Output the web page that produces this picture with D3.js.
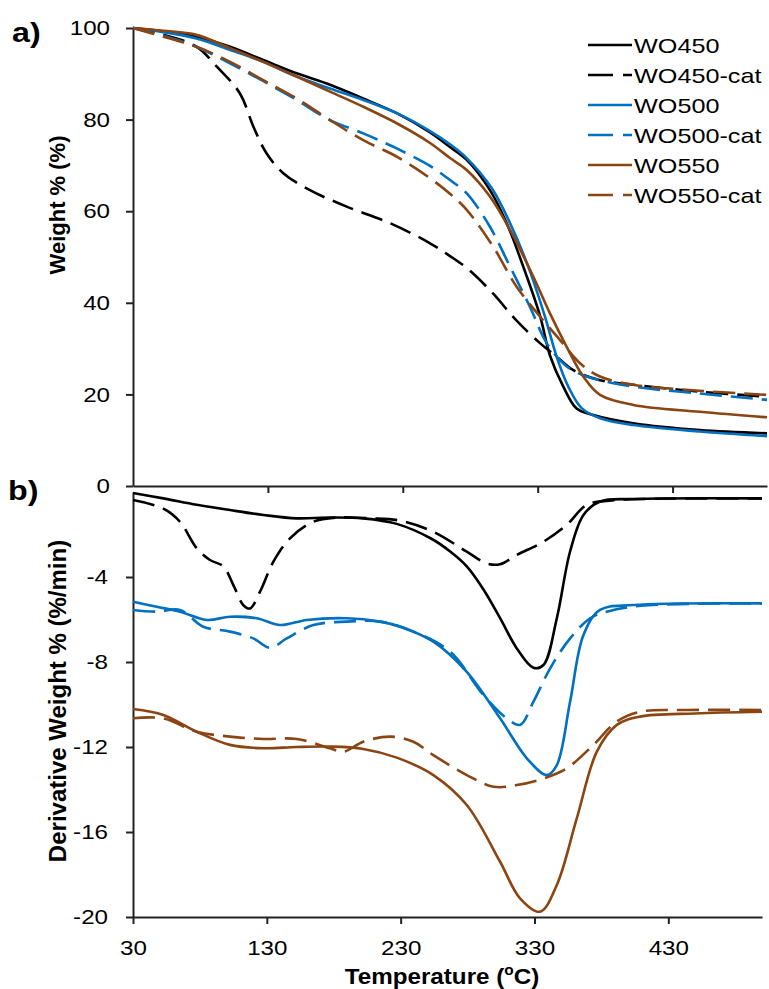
<!DOCTYPE html>
<html><head><meta charset="utf-8">
<script src="https://cdn.jsdelivr.net/npm/d3@7"></script>
<style>
html,body{margin:0;padding:0;background:#fff;}
text{font-family:"Liberation Sans",Arial,sans-serif;fill:#000;}
</style></head>
<body><svg id="c" width="769" height="989"></svg>
<script>
// ---- data (temperature °C, value) ----
const seriesNames = ["WO450","WO450-cat","WO500","WO500-cat","WO550","WO550-cat"];

// a) Weight %
const tga_WO450 = [[30,100],[52,99.3],[77,98.1],[102,95.9],[126.6,93],[151.3,90.1],[176,87.6],[200.7,84.6],[225.5,81.4],[250.2,77.2],[265,74],[277.4,71.2],[294.6,64.6],[307,57.4],[319.3,47.9],[331.7,37.2],[339.1,28.5],[349,21.7],[358.9,16.9],[371.2,15.5],[400.9,13.7],[450.3,12.2],[500,11.5]];
const tga_WO450cat = [[30,100],[52.5,98.5],[77.2,95.9],[92,91.6],[109.3,85.7],[119.2,78.5],[129.1,72.6],[141.4,68.3],[161.2,64.6],[188.4,61],[220.5,57.4],[250.2,53],[265,50.2],[277.4,47.6],[296.7,42.1],[314,36.2],[331.7,31.2],[344.1,28.2],[356.4,25.3],[376.2,23.1],[400.9,22.1],[450,20.6],[500,19.5]];
const tga_WO500 = [[30,100],[52.5,99.1],[77,97.7],[102,95.2],[126.6,92.6],[151.3,89.4],[176,86.8],[200.7,84.3],[225.5,81.4],[250.2,77.5],[265,74.6],[277.4,71.6],[296,65],[309.5,57.4],[323,47.9],[335.4,37],[344.1,28.2],[352.7,21.7],[362.6,17],[376.2,14.8],[400.9,13.3],[450,11.9],[500,10.9]];
const tga_WO500cat = [[30,100],[52.5,98.3],[77,95.9],[101.9,92.3],[134,87.2],[151.3,84.3],[176,79.9],[200.7,77],[225.5,73.7],[250.2,69.9],[265,66.8],[277.4,63.9],[294.6,56.6],[309.5,47.9],[324.3,39.1],[336.7,31.2],[351.5,26.1],[366.3,23.9],[400.9,21.7],[450,20.2],[500,18.8]];
const tga_WO550 = [[30,100],[52.5,99.4],[77,98.5],[102,95.6],[126.6,92.6],[151.3,89.4],[176,86.1],[200.7,82.8],[225.5,79.2],[250.2,74.9],[265,71.6],[277.4,69],[294.6,63.2],[309.5,55.9],[326.8,45.7],[339.1,37.7],[351.5,30.4],[363.8,23.9],[376.2,19.9],[400.9,17.7],[450,16.2],[500,15]];
const tga_WO550cat = [[30,100],[52.5,98.1],[77,95.9],[102,92.6],[126.6,88.6],[151.3,84.6],[176,79.9],[200.7,75.5],[225.5,71.9],[250.2,67.2],[265,63.8],[277.4,60.3],[297.1,52.2],[314.4,43.5],[331.7,37],[346.5,31.9],[361.4,26.8],[376.2,23.9],[400.9,22.1],[450,20.8],[500,19.9]];

// b) Derivative weight % (%/min)
const dtg_WO450 = [[30,-0.05],[52.7,-0.3],[77.6,-0.6],[102.5,-0.85],[127.4,-1.08],[152.3,-1.24],[177.2,-1.2],[202.1,-1.24],[227.1,-1.5],[253,-2.2],[267,-2.8],[279.4,-3.5],[292,-4.6],[304.3,-5.94],[316.8,-7.36],[329.2,-8.27],[336.7,-8.14],[346.7,-5.94],[356.6,-2.8],[366.6,-1.08],[379,-0.45],[403.9,-0.33],[500,-0.3]];
const dtg_WO450cat = [[30,-0.38],[52.7,-0.78],[65.1,-1.4],[77.6,-2.65],[87.5,-3.2],[97.5,-3.5],[105,-4.38],[112.4,-5.32],[117.4,-5.48],[124.9,-4.69],[134.9,-3.28],[147.3,-2.18],[164.8,-1.4],[182.2,-1.2],[207.1,-1.24],[229.6,-1.35],[254.4,-1.87],[279.4,-2.81],[294.3,-3.36],[304.3,-3.4],[316.8,-2.96],[336.7,-2.34],[354.1,-1.55],[369.1,-0.61],[391.5,-0.38],[420,-0.32],[500,-0.3]];
const dtg_WO500 = [[30,-5.16],[47.7,-5.4],[65.1,-5.63],[85.1,-6.02],[102.5,-5.87],[122.5,-5.94],[139.9,-6.26],[159.8,-6.02],[189.7,-5.94],[214.6,-6.1],[229.6,-6.34],[254.4,-7.04],[279.4,-8.46],[304.3,-10.65],[324.3,-12.53],[339.2,-13.32],[346.7,-12.85],[356.6,-9.87],[366.6,-6.73],[379,-5.55],[403.9,-5.32],[500,-5.24]];
const dtg_WO500cat = [[30,-5.55],[47.7,-5.63],[65.1,-5.55],[82.6,-6.34],[102.5,-6.57],[119.9,-6.89],[132.4,-7.33],[144.9,-6.89],[164.8,-6.26],[189.7,-6.1],[214.6,-6.1],[239.5,-6.57],[266.9,-7.51],[291.8,-9.55],[309.3,-10.65],[319.2,-10.96],[329.2,-9.87],[341.7,-8.3],[356.6,-6.89],[371.6,-5.94],[384,-5.63],[410,-5.35],[500,-5.24]];
const dtg_WO550 = [[30,-10.21],[52.7,-10.49],[77.6,-11.28],[102.5,-11.9],[127.4,-12.06],[152.3,-12.0],[177.2,-11.98],[202.1,-12.09],[227.1,-12.5],[254.4,-13.32],[279.4,-14.73],[304.3,-17.4],[319.2,-19.12],[334.2,-19.75],[346.7,-18.49],[361.6,-15.36],[376.6,-12.22],[391.5,-10.96],[408.9,-10.57],[450,-10.42],[500,-10.34]];
const dtg_WO550cat = [[30,-10.65],[52.7,-10.65],[77.6,-11.28],[102.5,-11.51],[127.4,-11.62],[152.3,-11.62],[177.2,-12.06],[187.2,-12.22],[202.1,-11.75],[222.1,-11.51],[239.5,-11.75],[254.4,-12.38],[279.4,-13.32],[299.3,-13.87],[316.8,-13.79],[336.7,-13.48],[354.1,-13.0],[374.1,-11.9],[391.5,-10.8],[408.9,-10.34],[445,-10.26],[500,-10.26]];

const tgaTicks = [0,20,40,60,80,100];
const dtgTicks = [-20,-16,-12,-8,-4];
const xTicks = [30,130,230,330,430];

// ---- styles ----
const colors = {"WO450":"#000000","WO450-cat":"#000000","WO500":"#0070C0","WO500-cat":"#0070C0","WO550":"#8B4513","WO550-cat":"#8B4513"};
const dashed = {"WO450":false,"WO450-cat":true,"WO500":false,"WO500-cat":true,"WO550":false,"WO550-cat":true};
const tgaData = [tga_WO450,tga_WO450cat,tga_WO500,tga_WO500cat,tga_WO550,tga_WO550cat];
const dtgData = [dtg_WO450,dtg_WO450cat,dtg_WO500,dtg_WO500cat,dtg_WO550,dtg_WO550cat];

const svg = d3.select("#c");
const K = 1.15; // horizontal stretch of the source image text
function stretch(sel,k){ sel.each(function(){ const l=this.getComputedTextLength(); d3.select(this).attr("textLength",l*(k||K)).attr("lengthAdjust","spacingAndGlyphs"); }); }

const xTop = d3.scaleLinear().domain([30,500]).range([133,767]);
const yTop = d3.scaleLinear().domain([0,100]).range([486,28]);
const xBot = d3.scaleLinear().domain([30,500]).range([133,762]);
const yBot = d3.scaleLinear().domain([-20,0]).range([917,492]);

const axisColor = "#222";
function styleAxis(g){
  g.selectAll("path.domain").attr("stroke",axisColor).attr("stroke-width",2);
  g.selectAll(".tick line").attr("stroke",axisColor).attr("stroke-width",2);
  g.selectAll(".tick text").attr("font-size",21).attr("font-family","Liberation Sans, Arial, sans-serif").attr("fill","#000");
}

// top axes
const gTY = svg.append("g").attr("transform","translate(133,0)")
  .call(d3.axisLeft(yTop).tickValues(tgaTicks).tickSize(7).tickSizeOuter(0).tickPadding(16).tickFormat(d=>String(d)));
styleAxis(gTY);
const gTX = svg.append("g").attr("transform","translate(0,486)")
  .call(d3.axisBottom(xTop).tickValues([130,230,330,430]).tickSize(7).tickSizeOuter(0).tickFormat(""));
styleAxis(gTX);

// bottom axes
const gBY = svg.append("g").attr("transform","translate(133,0)")
  .call(d3.axisLeft(yBot).tickValues(dtgTicks).tickSize(7).tickSizeOuter(0).tickPadding(18).tickFormat(d=>String(d)));
styleAxis(gBY);
const gBX = svg.append("g").attr("transform","translate(0,917)")
  .call(d3.axisBottom(xBot).tickValues(xTicks).tickSize(7).tickSizeOuter(0).tickPadding(16).tickFormat(d=>String(d)));
styleAxis(gBX);

[gTY,gBY,gBX].forEach(g=>stretch(g.selectAll(".tick text")));

// lines
const curve = d3.curveCatmullRom.alpha(0.5);
const lineTop = d3.line().x(d=>xTop(d[0])).y(d=>yTop(d[1])).curve(curve);
const lineBot = d3.line().x(d=>xBot(d[0])).y(d=>yBot(d[1])).curve(curve);
const DASH = "22,9";
seriesNames.forEach((n,i)=>{
  svg.append("path").attr("d",lineTop(tgaData[i])).attr("fill","none")
    .attr("stroke",colors[n]).attr("stroke-width",2.6).attr("stroke-dasharray",dashed[n]?DASH:null);
});
seriesNames.forEach((n,i)=>{
  svg.append("path").attr("d",lineBot(dtgData[i])).attr("fill","none")
    .attr("stroke",colors[n]).attr("stroke-width",2.6).attr("stroke-dasharray",dashed[n]?DASH:null);
});

// legend
const leg = svg.append("g");
seriesNames.forEach((n,i)=>{
  const y = 45 + i*30;
  leg.append("line").attr("x1",588).attr("x2",632).attr("y1",y).attr("y2",y)
    .attr("stroke",colors[n]).attr("stroke-width",2.6).attr("stroke-dasharray",dashed[n]?"25,10":null);
  leg.append("text").attr("x",634).attr("y",y).attr("dy","0.36em").attr("font-size",21).text(n);
});
stretch(leg.selectAll("text"),1.2);

// axis titles
svg.append("text").attr("transform","translate(57,205) rotate(-90)").attr("text-anchor","middle")
  .attr("dy","0.36em").attr("font-size",22).attr("font-weight","bold").text("Weight % (%)");
svg.append("text").attr("transform","translate(57,701) rotate(-90)").attr("text-anchor","middle")
  .attr("dy","0.36em").attr("font-size",24).attr("font-weight","bold").text("Derivative Weight % (%/min)");
const xt = svg.append("text").attr("x",442).attr("y",984).attr("text-anchor","middle")
  .attr("font-size",22).attr("font-weight","bold");
xt.append("tspan").text("Temperature (");
xt.append("tspan").attr("font-size",14).attr("dy",-9).text("o");
xt.append("tspan").attr("dy",9).text("C)");
stretch(xt, 1.1);

// panel labels
const pa = svg.append("text").attr("x",12).attr("y",42).attr("font-size",28).attr("font-weight","bold").text("a)");
const pb = svg.append("text").attr("x",8).attr("y",500).attr("font-size",28).attr("font-weight","bold").text("b)");
stretch(pa); stretch(pb);
</script></body></html>
